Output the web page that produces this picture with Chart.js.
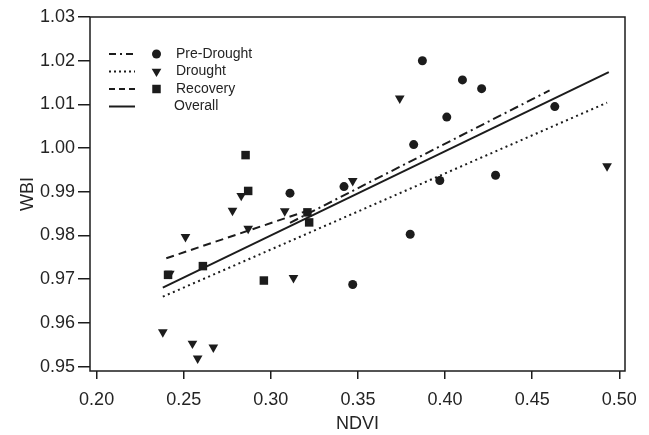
<!DOCTYPE html>
<html>
<head>
<meta charset="utf-8">
<script src="https://cdn.jsdelivr.net/npm/chart.js@4.4.1/dist/chart.umd.min.js"></script>
<style>
  html, body { margin: 0; padding: 0; background: #fff; }
  canvas { display: block; }
</style>
</head>
<body>
<canvas id="wbiChart" width="649" height="435"></canvas>
<script>
// Observations (NDVI on x, WBI on y) for each period
const preDroughtNdvi = [0.311, 0.342, 0.347, 0.380, 0.382, 0.387, 0.397, 0.401, 0.410, 0.421, 0.429, 0.463];
const preDroughtWbi  = [0.9897, 0.9912, 0.9688, 0.9803, 1.0008, 1.0200, 0.9926, 1.0071, 1.0156, 1.0136, 0.9938, 1.0095];

const droughtNdvi = [0.238, 0.242, 0.251, 0.255, 0.258, 0.267, 0.278, 0.283, 0.287, 0.308, 0.313, 0.347, 0.374, 0.493];
const droughtWbi  = [0.9579, 0.9713, 0.9797, 0.9553, 0.9519, 0.9544, 0.9857, 0.9891, 0.9816, 0.9856, 0.9703, 0.9925, 1.0114, 0.9959];

const recoveryNdvi = [0.241, 0.261, 0.2855, 0.287, 0.296, 0.321, 0.322];
const recoveryWbi  = [0.9710, 0.9730, 0.9984, 0.9902, 0.9697, 0.9853, 0.9830];

// Regression lines (end points)
const preDroughtFitNdvi = [0.311, 0.460];
const preDroughtFitWbi  = [0.9829, 1.0132];
const droughtFitNdvi = [0.238, 0.493];
const droughtFitWbi  = [0.9660, 1.0104];
const recoveryFitNdvi = [0.240, 0.322];
const recoveryFitWbi  = [0.9748, 0.9858];
const overallFitNdvi = [0.238, 0.494];
const overallFitWbi  = [0.9681, 1.0174];

// Axis ticks
const xTickValues = [0.20, 0.25, 0.30, 0.35, 0.40, 0.45, 0.50];
const yTickValues = [0.95, 0.96, 0.97, 0.98, 0.99, 1.00, 1.01, 1.02, 1.03];

const legendLabels = ['Pre-Drought', 'Drought', 'Recovery', 'Overall'];

const ink = '#1c1c1c';
const textColor = '#242424';
const fontFamily = 'Arial, "Liberation Sans", Helvetica, sans-serif';

function toPoints(xs, ys) {
    return xs.map((x, i) => ({ x: x, y: ys[i] }));
}

function fitLine(xs, ys, dash, legendDash) {
    return {
        type: 'scatter',
        data: toPoints(xs, ys),
        showLine: true,
        borderColor: ink,
        borderWidth: 2,
        borderDash: dash,
        legendDash: legendDash,
        pointRadius: 0,
        fill: false,
        tension: 0
    };
}

function markers(xs, ys, style, radius, rotation) {
    return {
        type: 'scatter',
        data: toPoints(xs, ys),
        showLine: false,
        pointStyle: style,
        pointRadius: radius,
        pointRotation: rotation,
        backgroundColor: ink,
        borderColor: ink,
        borderWidth: 0
    };
}

const datasets = [
    fitLine(preDroughtFitNdvi, preDroughtFitWbi, [9, 4, 2, 4], [7, 4, 2, 4]),
    fitLine(droughtFitNdvi, droughtFitWbi, [2, 3.5], [2, 3]),
    fitLine(recoveryFitNdvi, recoveryFitWbi, [8, 5], [6, 4]),
    fitLine(overallFitNdvi, overallFitWbi, [], []),
    markers(preDroughtNdvi, preDroughtWbi, 'circle', 4.5, 0),
    markers(droughtNdvi, droughtWbi, 'triangle', 5.6, 180),
    markers(recoveryNdvi, recoveryWbi, 'rect', 6, 0)
];

// which line / marker dataset goes with each legend row
const legendRows = [
    { line: 0, marker: 4 },
    { line: 1, marker: 5 },
    { line: 2, marker: 6 },
    { line: 3, marker: null }
];

// frame around the plot area + hand made legend
const framePlugin = {
    id: 'frameAndLegend',
    afterDraw(chart) {
        const ctx = chart.ctx;
        const a = chart.chartArea;
        ctx.save();
        ctx.strokeStyle = ink;
        ctx.lineWidth = 1.5;
        ctx.strokeRect(a.left, a.top, a.right - a.left, a.bottom - a.top);

        ctx.font = '14px ' + fontFamily;
        ctx.textBaseline = 'middle';
        legendRows.forEach((row, i) => {
            const y = 54 + i * 17.5;
            const ds = chart.data.datasets[row.line];
            ctx.beginPath();
            ctx.strokeStyle = ink;
            ctx.lineWidth = 2;
            ctx.setLineDash(ds.legendDash);
            ctx.moveTo(109, y);
            ctx.lineTo(135, y);
            ctx.stroke();
            ctx.setLineDash([]);
            if (row.marker !== null) {
                const m = chart.data.datasets[row.marker];
                ctx.fillStyle = ink;
                Chart.helpers.drawPoint(ctx, {
                    pointStyle: m.pointStyle,
                    radius: m.pointRadius,
                    rotation: m.pointRotation,
                    borderWidth: 0
                }, 156.5, y);
            }
            ctx.fillStyle = textColor;
            ctx.fillText(legendLabels[i], row.marker !== null ? 176 : 174, y);
        });
        ctx.restore();
    }
};

new Chart(document.getElementById('wbiChart').getContext('2d'), {
    type: 'scatter',
    data: { datasets: datasets },
    plugins: [framePlugin],
    options: {
        responsive: false,
        animation: false,
        events: [],
        layout: { padding: { left: 0, top: 17, right: 24, bottom: 0 } },
        plugins: {
            legend: { display: false },
            tooltip: { enabled: false }
        },
        scales: {
            x: {
                type: 'linear',
                min: 0.1962,
                max: 0.5033,
                afterBuildTicks: (scale) => { scale.ticks = xTickValues.map(v => ({ value: v })); },
                afterFit: (scale) => { scale.height = 64; },
                ticks: {
                    color: textColor,
                    font: { family: fontFamily, size: 18 },
                    padding: 10,
                    maxRotation: 0,
                    callback: (v) => Number(v).toFixed(2)
                },
                grid: { drawOnChartArea: false, drawTicks: true, tickLength: 8, color: ink, lineWidth: 1.5 },
                border: { display: false },
                title: {
                    display: true,
                    text: 'NDVI',
                    color: textColor,
                    font: { family: fontFamily, size: 18 },
                    padding: { top: 0, bottom: 0 }
                }
            },
            y: {
                type: 'linear',
                min: 0.949,
                max: 1.03,
                afterBuildTicks: (scale) => { scale.ticks = yTickValues.map(v => ({ value: v })); },
                afterFit: (scale) => { scale.width = 90; },
                ticks: {
                    color: textColor,
                    font: { family: fontFamily, size: 18 },
                    padding: 3,
                    callback: (v) => Number(v).toFixed(2)
                },
                grid: { drawOnChartArea: false, drawTicks: true, tickLength: 12, color: ink, lineWidth: 1.5 },
                border: { display: false },
                title: {
                    display: true,
                    text: 'WBI',
                    color: textColor,
                    font: { family: fontFamily, size: 18 },
                    padding: { top: 17, bottom: 0 }
                }
            }
        }
    }
});
</script>
</body>
</html>
